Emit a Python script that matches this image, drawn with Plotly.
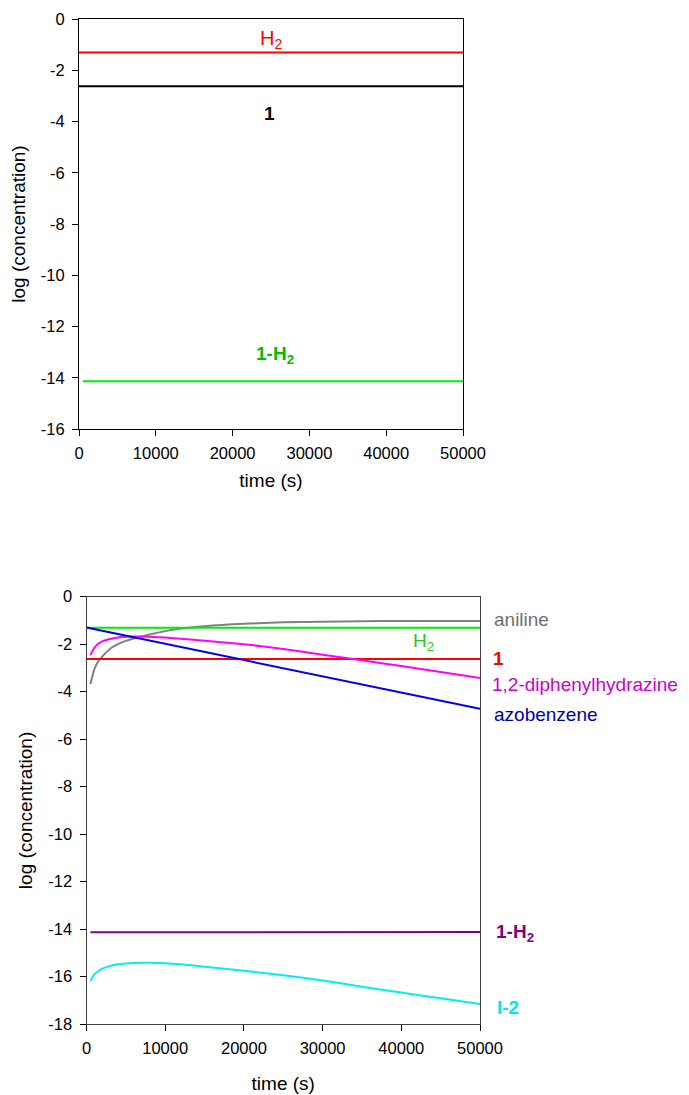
import plotly.graph_objects as go

# ---------------- data ----------------
# top panel
top_t_full = [0, 50000]
top_t_late = [500, 50000]
top_H2 = [-1.31, -1.31]
top_cat1 = [-2.62, -2.62]
top_cat1H2 = [-14.14, -14.14]

# bottom panel
bot_t = [500, 1000, 1500, 2000, 3000, 4000, 5000, 6000, 7000, 8000,
         10000, 12000, 15000, 20000, 25000, 30000, 35000, 40000, 45000, 50000]
aniline = [-3.68, -3.05, -2.72, -2.52, -2.19, -2.00, -1.86, -1.76, -1.67, -1.59,
           -1.45, -1.34, -1.24, -1.14, -1.08, -1.05, -1.03, -1.02, -1.02, -1.02]
diphenylhydrazine = [-2.46, -2.15, -1.98, -1.88, -1.78, -1.72, -1.69, -1.68, -1.68, -1.69,
                     -1.72, -1.77, -1.85, -2.00, -2.20, -2.44, -2.68, -2.92, -3.17, -3.42]
I2 = [-16.18, -15.90, -15.76, -15.66, -15.55, -15.48, -15.44, -15.42, -15.41, -15.41,
      -15.43, -15.48, -15.58, -15.75, -15.94, -16.16, -16.42, -16.67, -16.91, -17.15]
bot_t_full = [0, 50000]
bot_H2 = [-1.305, -1.305]
bot_cat1 = [-2.62, -2.62]
azobenzene = [-1.30, -4.72]
bot_t_late = [500, 50000]
bot_cat1H2 = [-14.13, -14.12]

x_ticks = [0, 10000, 20000, 30000, 40000, 50000]
top_y_ticks = [0, -2, -4, -6, -8, -10, -12, -14, -16]
bot_y_ticks = [0, -2, -4, -6, -8, -10, -12, -14, -16, -18]

FONT = "Liberation Sans, Arial, sans-serif"
W, H = 689, 1095
OFF = 8  # page body margin of the html page

fig = go.Figure()

def line(x, y, color, xa, ya, name):
    fig.add_trace(go.Scatter(x=x, y=y, mode="lines", name=name,
                             line=dict(color=color, width=2, shape="spline", smoothing=0.6),
                             xaxis=xa, yaxis=ya, showlegend=False,
                             hoverinfo="skip"))

# top panel traces
line(top_t_full, top_H2, "#ff0000", "x", "y", "H2")
line(top_t_full, top_cat1, "#000000", "x", "y", "1")
line(top_t_late, top_cat1H2, "#00ee00", "x", "y", "1-H2")

# bottom panel traces
line(bot_t, aniline, "#808080", "x2", "y2", "aniline")
line(bot_t_full, bot_H2, "#00ee00", "x2", "y2", "H2")
line(bot_t_full, bot_cat1, "#ff0000", "x2", "y2", "1")
line(bot_t, diphenylhydrazine, "#ff00ff", "x2", "y2", "1,2-diphenylhydrazine")
line(bot_t_full, azobenzene, "#0000ee", "x2", "y2", "azobenzene")
line(bot_t_late, bot_cat1H2, "#800080", "x2", "y2", "1-H2")
line(bot_t, I2, "#00f0f0", "x2", "y2", "I-2")

def px2paper_x(p):
    return (p - OFF) / W

def px2paper_y(p):
    return 1 - (p - OFF) / H

axis_common = dict(
    showgrid=False, zeroline=False, showline=True, mirror=True,
    ticks="outside", ticklen=6, tickwidth=1, automargin=False,
    tickfont=dict(family=FONT, size=16.5, color="#000"),
    title_font=dict(family=FONT, size=19, color="#000"),
)

fig.update_layout(
    width=W, height=H,
    margin=dict(l=0, r=0, t=0, b=0),
    paper_bgcolor="white", plot_bgcolor="white",
    font=dict(family=FONT, size=16, color="#000"),
    xaxis=dict(domain=[px2paper_x(79), px2paper_x(463)], range=[0, 50000],
               tickvals=x_ticks, ticktext=[str(v) for v in x_ticks],
               linecolor="#000", tickcolor="#000", anchor="y",
               ticklabelstandoff=3,
               title=dict(text="time (s)", standoff=12), **axis_common),
    yaxis=dict(domain=[px2paper_y(429), px2paper_y(19)], range=[-16, 0],
               tickvals=top_y_ticks, ticktext=[str(v) for v in top_y_ticks],
               linecolor="#000", tickcolor="#000", anchor="x",
               ticklabelstandoff=4,
               title=dict(text="log (concentration)", standoff=10), **axis_common),
    xaxis2=dict(domain=[px2paper_x(86.5), px2paper_x(480)], range=[0, 50000],
                tickvals=x_ticks, ticktext=[str(v) for v in x_ticks],
                linecolor="#404040", tickcolor="#000", anchor="y2",
                ticklabelstandoff=3,
                title=dict(text="time (s)", standoff=20), **axis_common),
    yaxis2=dict(domain=[px2paper_y(1024.2), px2paper_y(596.7)], range=[-18, 0],
                tickvals=bot_y_ticks, ticktext=[str(v) for v in bot_y_ticks],
                linecolor="#404040", tickcolor="#000", anchor="x2",
                ticklabelstandoff=4,
                title=dict(text="log (concentration)", standoff=10), **axis_common),
)

def ann(text, x, y, xref, yref, color, size=19, bold=False, xanchor="center", xshift=0):
    if bold:
        text = "<b>" + text + "</b>"
    fig.add_annotation(text=text, x=x, y=y, xref=xref, yref=yref,
                       showarrow=False, xanchor=xanchor, yanchor="middle",
                       xshift=xshift,
                       font=dict(family=FONT, size=size, color=color))

# top panel labels
ann("H<sub>2</sub>", 25000, -0.8, "x", "y", "#ff0000", size=20)
ann("1", 24800, -3.67, "x", "y", "#000000", size=19, bold=True)
ann("1-H<sub>2</sub>", 25500, -13.1, "x", "y", "#00bb00", size=19, bold=True)

# bottom panel labels
ann("aniline", 50000, -0.98, "x2", "y2", "#707070", xanchor="left", xshift=12)
ann("H<sub>2</sub>", 42760, -1.9, "x2", "y2", "#22cc22")
ann("1", 50000, -2.62, "x2", "y2", "#ff0000", bold=True, xanchor="left", xshift=11)
ann("1,2-diphenylhydrazine", 50000, -3.7, "x2", "y2", "#cc00cc", xanchor="left", xshift=10)
ann("azobenzene", 50000, -4.94, "x2", "y2", "#0000aa", xanchor="left", xshift=12)
ann("1-H<sub>2</sub>", 50000, -14.15, "x2", "y2", "#800080", bold=True, xanchor="left", xshift=14)
ann("I-2", 50000, -17.3, "x2", "y2", "#00e8e8", bold=True, xanchor="left", xshift=15)

fig.write_html("out.html")
